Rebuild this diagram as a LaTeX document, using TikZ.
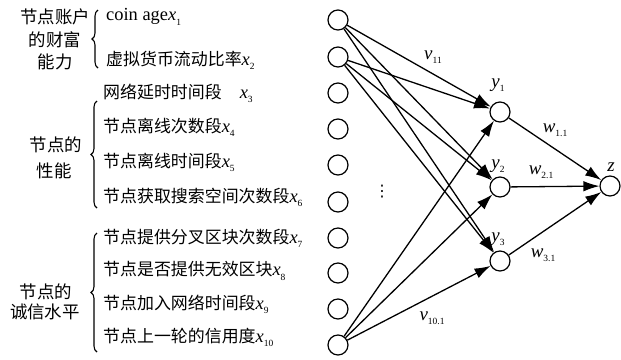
\documentclass[tikz,border=0pt]{standalone}
\usepackage{fontspec}
\setmainfont{Liberation Serif}
\newfontfamily\cjk{Noto Sans CJK SC}
\newfontfamily\dejavu{DejaVu Sans}
\usetikzlibrary{arrows.meta,decorations.pathreplacing}
\newcommand\lsub[2]{\textit{#1}\raisebox{-0.5ex}{\fontsize{9.5}{9.5}\selectfont #2}}
\tikzset{
  circ/.style={circle,draw,line width=1.2bp,minimum size=20bp,inner sep=0pt},
  arr/.style={line width=1.3bp,-{Latex[length=16bp,width=10.5bp]}},
  txt/.style={inner sep=0pt,font=\fontsize{18.5}{18.5}\selectfont},
  item/.style={txt,anchor=west},
  grp/.style={txt,align=center},
  brc/.style={decorate,decoration={brace,amplitude=6bp},line width=1.1bp},
  lbl/.style={inner sep=0pt,font=\fontsize{19}{19}\selectfont}
}
\begin{document}
\begin{tikzpicture}[x=1bp,y=-1bp]
\useasboundingbox (0,0) rectangle (621,359);
% input circles
\foreach \i/\y in {1/20,2/57,3/93,4/129,5/165,6/202,7/238,8/273,9/309,10/345}{
  \node[circ] (i\i) at (338,\y) {};
}
\node[circ] (h1) at (500,112) {};
\node[circ] (h2) at (500,187) {};
\node[circ] (h3) at (500,261) {};
\node[circ] (z) at (610,186) {};
% edges
\foreach \s in {1,2,10}{
  \foreach \t in {1,2,3}{
    \draw[arr] (i\s) -- (h\t);
  }
}
\foreach \t in {1,2,3}{ \draw[arr] (h\t) -- (z); }
% labels
\node[lbl] (lv11) at (433,57) {\lsub{v}{11}};
\node[lbl] (lv101) at (432,318) {\lsub{v}{10.1}};
\node[lbl] (ly1) at (498,85) {\lsub{y}{1}};
\node[lbl] (ly2) at (498,166) {\lsub{y}{2}};
\node[lbl] (ly3) at (498,239) {\lsub{y}{3}};
\node[lbl] (lw1) at (555,130) {\lsub{w}{1.1}};
\node[lbl] (lw2) at (541,172) {\lsub{w}{2.1}};
\node[lbl] (lw3) at (543,255) {\lsub{w}{3.1}};
\node[lbl] (lz) at (611,167) {\textit{z}};
\node[lbl] (dots) at (382,192) {\dejavu\fontsize{16}{16}\selectfont ⋮};
% group 1
\node[grp] (g1a) at (55,17) {\cjk\fontsize{17.5}{17.5}\selectfont 节点账户};
\node[grp] (g1b) at (55,40) {\cjk\fontsize{17.5}{17.5}\selectfont 的财富};
\node[grp] (g1c) at (55,62) {\cjk\fontsize{17.5}{17.5}\selectfont 能力};
\draw[brc] (98,68) -- (98,10);
\node[item] (x1) at (106,17) {coin age\lsub{x}{1}};
\node[item] (x2) at (106,60) {{\cjk\fontsize{17}{17}\selectfont 虚拟货币流动比率}\lsub{x}{2}};
% group 2
\node[grp] (g2a) at (56,145) {\cjk\fontsize{17.5}{17.5}\selectfont 节点的};
\node[grp] (g2b) at (54,171) {\cjk\fontsize{17.5}{17.5}\selectfont 性能};
\draw[brc] (97,208) -- (97,101);
\node[item] (x3) at (103,93) {{\cjk\fontsize{17}{17}\selectfont 网络延时时间段}\hspace{18bp}\lsub{x}{3}};
\node[item] (x4) at (103,127) {{\cjk\fontsize{17}{17}\selectfont 节点离线次数段}\lsub{x}{4}};
\node[item] (x5) at (103,162) {{\cjk\fontsize{17}{17}\selectfont 节点离线时间段}\lsub{x}{5}};
\node[item] (x6) at (103,197) {{\cjk\fontsize{17}{17}\selectfont 节点获取搜索空间次数段}\lsub{x}{6}};
% group 3
\node[grp] (g3a) at (46,292) {\cjk\fontsize{17.5}{17.5}\selectfont 节点的};
\node[grp] (g3b) at (45,312) {\cjk\fontsize{17.5}{17.5}\selectfont 诚信水平};
\draw[brc] (97,352) -- (97,233);
\node[item] (x7) at (103,238) {{\cjk\fontsize{17}{17}\selectfont 节点提供分叉区块次数段}\lsub{x}{7}};
\node[item] (x8) at (103,271) {{\cjk\fontsize{17}{17}\selectfont 节点是否提供无效区块}\lsub{x}{8}};
\node[item] (x9) at (103,304) {{\cjk\fontsize{17}{17}\selectfont 节点加入网络时间段}\lsub{x}{9}};
\node[item] (x10) at (103,337) {{\cjk\fontsize{17}{17}\selectfont 节点上一轮的信用度}\lsub{x}{10}};
\end{tikzpicture}
\end{document}
